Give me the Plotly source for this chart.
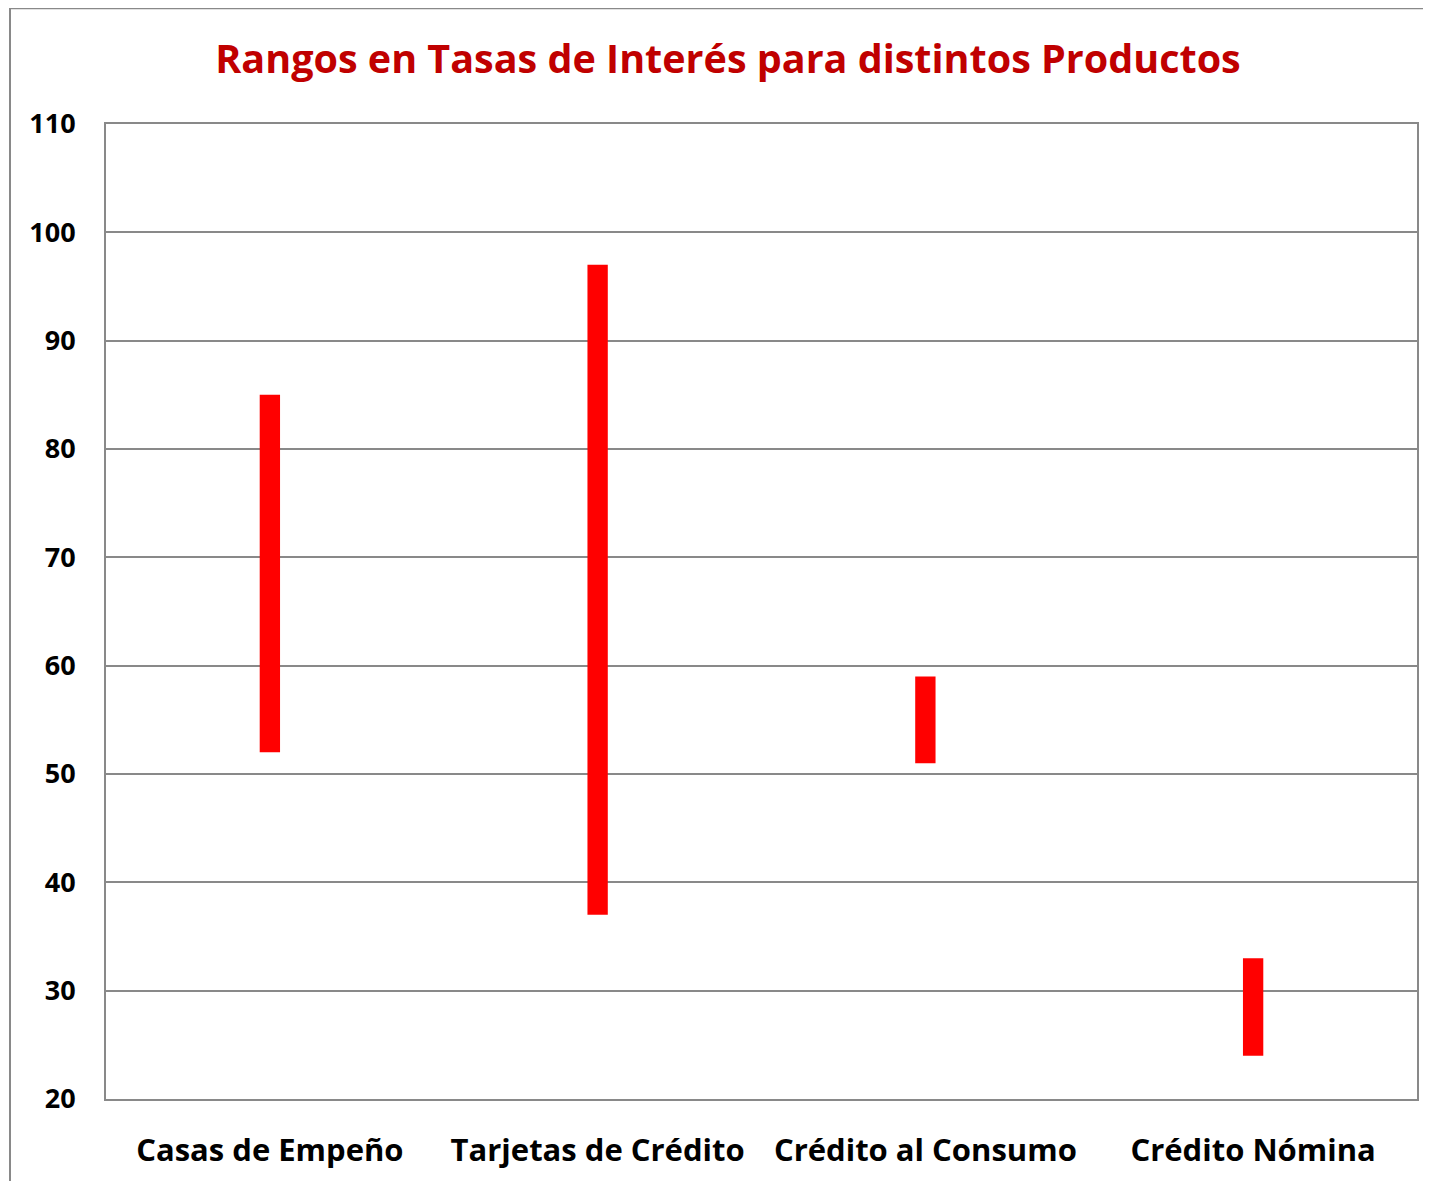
import plotly.graph_objects as go

categories = ["Casas de Empeño", "Tarjetas de Crédito", "Crédito al Consumo", "Crédito Nómina"]
low_rate = [52, 37, 51, 24]
high_rate = [85, 97, 59, 33]

OFFX, OFFY = 8, 7  # page body margin
W, H = 1431 - OFFX, 1181 - OFFY
# screen coords of plot area
SL, ST, SR, SB = 106, 123, 1417, 1101
L, T = SL - OFFX, ST - OFFY
R, B = W - (SR - OFFX), H - (SB - OFFY)
pw, ph = SR - SL, SB - ST

fig = go.Figure()
fig.add_trace(go.Bar(
    x=categories,
    y=[h - l for h, l in zip(high_rate, low_rate)],
    base=low_rate,
    width=0.062,
    marker=dict(color="#FF0000", line=dict(width=0)),
    hoverinfo="skip",
))

font_family = "Open Sans, Liberation Sans, sans-serif"
fig.update_layout(
    width=W, height=H,
    margin=dict(l=L, r=R, t=T, b=B),
    paper_bgcolor="white", plot_bgcolor="white",
    showlegend=False,
    title=dict(text="<b>Rangos en Tasas de Interés para distintos Productos</b>",
               x=(728 - OFFX) / W, xanchor="center", xref="container",
               y=1 - (58 - OFFY) / H, yanchor="middle", yref="container",
               font=dict(family=font_family, size=39.5, color="#C00000")),
    xaxis=dict(showgrid=False, showline=True, linecolor="#898989", linewidth=2, mirror=True,
               ticks="", tickfont=dict(family=font_family, size=31, color="black", weight="bold"),
               range=[-0.5, 3.5]),
    yaxis=dict(range=[20, 110], dtick=10, tick0=20, showgrid=True, gridcolor="#898989", gridwidth=1.5,
               showline=True, linecolor="#898989", linewidth=2, mirror=True, zeroline=False,
               ticks="", ticklabelstandoff=23,
               tickfont=dict(family=font_family, size=27, color="black", weight="bold")),
    shapes=[dict(type="rect", xref="paper", yref="paper",
                 x0=(10 - SL) / pw, x1=(1431 + 20 - SL) / pw,
                 y0=-(1181 + 20 - SB) / ph, y1=(SB - 7) / ph,
                 line=dict(color="#898989", width=2), fillcolor="rgba(0,0,0,0)", layer="below")],
)
fig.update_xaxes(ticklabelstandoff=23)

fig.write_html("out.html")
